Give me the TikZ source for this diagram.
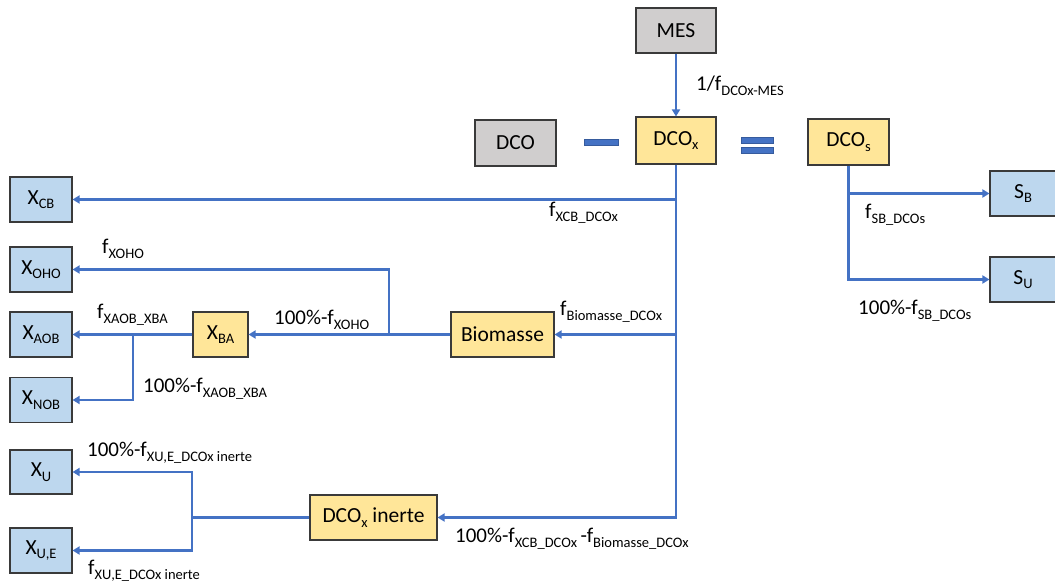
\documentclass[tikz,border=0pt]{standalone}
\usepackage{fontspec}
\setmainfont{Carlito}
\usetikzlibrary{arrows.meta}
\definecolor{lineblue}{HTML}{4472C4}
\definecolor{boxblue}{HTML}{BDD7EE}
\definecolor{boxyellow}{HTML}{FFE699}
\definecolor{boxgray}{HTML}{D0CECE}
\definecolor{boxedge}{HTML}{3A3A3A}
\newcommand{\sbs}[1]{\raisebox{-4.5pt}{\fontsize{14.5}{15}\selectfont #1}}
\tikzset{
  box/.style={draw=boxedge, line width=1.1pt, rectangle, inner sep=0pt,
    minimum width=62pt, minimum height=45pt, font=\fontsize{21.5}{24}\selectfont},
  bluebox/.style={box, fill=boxblue},
  yelbox/.style={box, fill=boxyellow},
  graybox/.style={box, fill=boxgray},
  lbl/.style={inner sep=0pt, anchor=west, font=\fontsize{21}{24}\selectfont},
  link/.style={draw=lineblue, line width=2.8pt},
  arr/.style={link, -{Triangle[length=7pt,width=8pt]}},
  bar/.style={fill=lineblue, draw=lineblue!80!black, line width=0.6pt}
}
\begin{document}
\begin{tikzpicture}[x=1pt,y=-1pt]
\useasboundingbox (0,0) rectangle (1055,588);
\clip (0,0) rectangle (1055,588);
% boxes
\node[graybox, minimum width=80pt] (MES) at (676,30.5) {MES};
\node[graybox, minimum width=81pt, minimum height=46pt] (DCO) at (515.5,143) {DCO};
\node[yelbox, minimum width=80pt, minimum height=47pt] (DCOx) at (676,140.5) {DCO\sbs{x}};
\node[yelbox, minimum width=81pt, minimum height=46pt] (DCOs) at (848.5,142) {DCO\sbs{s}};
\node[bluebox] (XCB) at (41,199.5) {X\sbs{CB}};
\node[bluebox] (XOHO) at (41,269.5) {X\sbs{OHO}};
\node[bluebox] (XAOB) at (41,334.5) {X\sbs{AOB}};
\node[bluebox] (XNOB) at (41,400) {X\sbs{NOB}};
\node[yelbox, minimum width=55pt] (XBA) at (220.5,334.5) {X\sbs{BA}};
\node[yelbox, minimum width=103pt] (Bio) at (502.5,334.5) {Biomasse};
\node[bluebox, minimum height=44pt] (XU) at (41,472) {X\sbs{U}};
\node[bluebox] (XUE) at (41,550.5) {X\sbs{U,E}};
\node[yelbox, minimum width=127pt] (inerte) at (373.5,517.5) {DCO\sbs{x} inerte};
\node[bluebox, minimum width=66pt] (SB) at (1023,193.5) {S\sbs{B}};
\node[bluebox, minimum width=66pt] (SU) at (1023,279.5) {S\sbs{U}};
% minus and equals signs
\fill[bar] (584,139) rectangle (618,145);
\fill[bar] (741,137) rectangle (773,143);
\fill[bar] (741,147) rectangle (773,153);
% junctions
\coordinate (jOHO) at (389,334.5);
\coordinate (jAOB) at (133,334.5);
\coordinate (jU) at (192,517.5);
% connectors
\draw[arr] (MES) -- (DCOx);
\draw[arr] (DCOx.south) |- (XCB);
\draw[arr] (DCOx.south) |- (Bio);
\draw[arr] (DCOx.south) |- (inerte);
\draw[arr] (Bio) -- (XBA);
\draw[arr] (jOHO) |- (XOHO);
\draw[arr] (XBA) -- (XAOB);
\draw[arr] (jAOB) |- (XNOB);
\draw[link] (inerte) -- (jU);
\draw[arr] (jU) |- (XU);
\draw[arr] (jU) |- (XUE);
\draw[arr] (DCOs.south) |- (SB);
\draw[arr] (DCOs.south) |- (SU);
% labels
\node[lbl] (lMES) at (696,86) {1/f\sbs{DCOx-MES}};
\node[lbl] (lXCB) at (549,213) {f\sbs{XCB\_DCOx}};
\node[lbl] (lXOHO) at (102,249) {f\sbs{XOHO}};
\node[lbl] (lBA) at (274,320) {100\%-f\sbs{XOHO}};
\node[lbl] (lAOB) at (97,315) {f\sbs{XAOB\_XBA}};
\node[lbl] (lNOB) at (143,389) {100\%-f\sbs{XAOB\_XBA}};
\node[lbl] (lBio) at (560,312) {f\sbs{Biomasse\_DCOx}};
\node[lbl] (lIn) at (455,539) {100\%-f\sbs{XCB\_DCOx}\,-f\sbs{Biomasse\_DCOx}};
\node[lbl] (lXU) at (87,453) {100\%-f\sbs{XU,E\_DCOx inerte}};
\node[lbl] (lXUE) at (88,571) {f\sbs{XU,E\_DCOx inerte}};
\node[lbl] (lSB) at (865,215) {f\sbs{SB\_DCOs}};
\node[lbl] (lSU) at (858,311) {100\%-f\sbs{SB\_DCOs}};
\end{tikzpicture}
\end{document}
